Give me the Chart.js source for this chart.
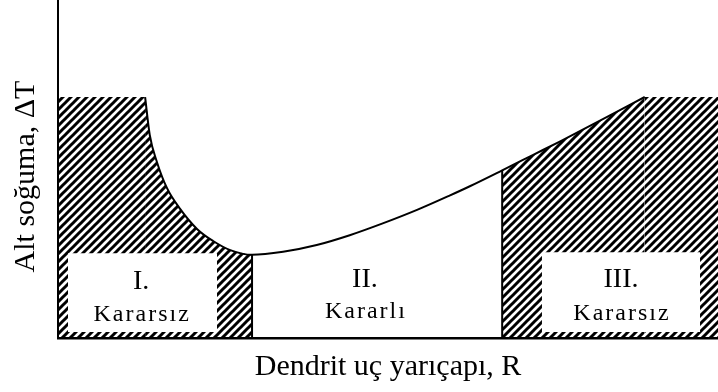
<!DOCTYPE html>
<html>
<head>
<meta charset="utf-8">
<script src="https://cdn.jsdelivr.net/npm/chart.js@4/dist/chart.umd.min.js"></script>
<style>
  html, body { margin: 0; padding: 0; background: #fff; }
  #wrap { width: 718px; height: 392px; }
</style>
</head>
<body>
<div id="wrap"><canvas id="c"></canvas></div>
<script>
// Stability curve: tip radius R against undercooling ΔT (arbitrary units)
const curveR  = [13.2, 13.9, 15.0, 16.5, 18.5, 21.1, 23.5, 26.1, 29.4, 34.1, 39.2, 44.2, 49.2, 54.4, 59.4, 62.4, 67.3, 72.0, 76.1, 83.2, 88.9];
const curveDT = [71.3, 60.1, 52.0, 44.4, 38.2, 32.2, 28.7, 26.0, 24.6, 25.5, 27.5, 30.4, 33.9, 37.9, 42.2, 44.9, 49.6, 54.2, 58.2, 65.4, 71.3];

// Region limits on the R axis and the height of the unstable bands
const stableStartR = 29.4;
const stableEndR = 67.3;
const unstableTopDT = 71.3;
const axisMaxR = 100;
const axisMaxDT = 100;

// Region captions
const regionNumerals = ['I.', 'II.', 'III.'];
const regionNames = ['Kararsız', 'Kararlı', 'Kararsız'];

// Caption placement (data units)
const captionR = [12.6, 46.5, 85.3];
const numeralBaseDT = [14.6, 15.2, 15.2];
const nameBaseDT = [5.0, 5.9, 5.3];
const captionBoxes = [
  { from: 1.5, to: 24.1, bottom: 1.8, top: 25.1 },
  { from: 73.3, to: 97.3, bottom: 1.8, top: 25.4 }
];

const curvePts = curveR.map((r, i) => ({ x: r, y: curveDT[i] }));
const leftCurve = curvePts.filter(p => p.x <= stableStartR);
const rightCurve = curvePts.filter(p => p.x >= stableEndR);
const dtAt = r => curveDT[curveR.indexOf(r)];

function hatchPattern() {
  const s = 8;
  const cv = document.createElement('canvas');
  cv.width = s; cv.height = s;
  const g = cv.getContext('2d');
  g.strokeStyle = '#000';
  g.lineWidth = 3;
  g.beginPath();
  g.moveTo(-2, 2); g.lineTo(2, -2);
  g.moveTo(0, s); g.lineTo(s, 0);
  g.moveTo(s - 2, s + 2); g.lineTo(s + 2, s - 2);
  g.stroke();
  return g.createPattern(cv, 'repeat');
}
const hatch = hatchPattern();

const hatchStyle = {
  fill: 'origin', backgroundColor: hatch, borderWidth: 0, borderColor: 'rgba(0,0,0,0)',
  pointRadius: 0, order: 5
};

const datasets = [
  // unstable band I (flat top, then under the curve)
  Object.assign({ data: [{ x: 0, y: unstableTopDT }, { x: curveR[0], y: unstableTopDT }], tension: 0 }, hatchStyle),
  Object.assign({ data: leftCurve, cubicInterpolationMode: 'monotone' }, hatchStyle),
  // unstable band III
  Object.assign({ data: rightCurve, cubicInterpolationMode: 'monotone' }, hatchStyle),
  Object.assign({ data: [{ x: curveR[curveR.length - 1], y: unstableTopDT }, { x: axisMaxR, y: unstableTopDT }], tension: 0 }, hatchStyle),
  // white caption boxes
  ...captionBoxes.map(b => ({
    data: [{ x: b.from, y: b.top }, { x: b.to, y: b.top }],
    fill: { target: { value: b.bottom } }, backgroundColor: '#fff',
    borderWidth: 0, borderColor: 'rgba(0,0,0,0)', pointRadius: 0, order: 4
  })),
  // region boundaries
  ...[stableStartR, stableEndR].map(r => ({
    data: [{ x: r, y: dtAt(r) }, { x: r, y: 0 }],
    borderColor: '#000', borderWidth: 2, pointRadius: 0, fill: false, order: 2
  })),
  // the stability curve
  {
    data: curvePts, borderColor: '#000', borderWidth: 2, pointRadius: 0,
    cubicInterpolationMode: 'monotone', fill: false, order: 1
  }
];

const captions = {
  id: 'captions',
  afterDatasetsDraw(chart) {
    const { ctx, scales: { x, y } } = chart;
    ctx.save();
    ctx.fillStyle = '#000';
    ctx.textAlign = 'center';
    ctx.textBaseline = 'alphabetic';
    regionNumerals.forEach((t, i) => {
      const px = x.getPixelForValue(captionR[i]);
      ctx.font = '28px "Liberation Serif"';
      ctx.letterSpacing = '0px';
      ctx.fillText(t, px, y.getPixelForValue(numeralBaseDT[i]));
      ctx.font = '24px "Liberation Serif"';
      ctx.letterSpacing = '2px';
      ctx.fillText(regionNames[i], px + 1, y.getPixelForValue(nameBaseDT[i]));
    });
    ctx.restore();
  }
};

const titleFont = { family: '"Liberation Serif", "Times New Roman", serif', size: 30 };

new Chart(document.getElementById('c'), {
  type: 'line',
  data: { datasets },
  options: {
    responsive: true,
    maintainAspectRatio: false,
    animation: false,
    layout: { padding: 0, autoPadding: false },
    plugins: { legend: { display: false }, tooltip: { enabled: false } },
    scales: {
      x: {
        type: 'linear', min: 0, max: axisMaxR,
        ticks: { display: false },
        grid: { display: false, drawTicks: false },
        border: { display: true, color: '#000', width: 2.5 },
        title: { display: true, text: 'Dendrit uç yarıçapı, R', color: '#000', font: titleFont, padding: { top: 11, bottom: 7 } }
      },
      y: {
        type: 'linear', min: 0, max: axisMaxDT,
        ticks: { display: false },
        grid: { display: false, drawTicks: false },
        border: { display: true, color: '#000', width: 2 },
        title: { display: true, text: 'Alt soğuma, ΔT  ', color: '#000', font: titleFont, padding: { top: 8, bottom: 14 } }
      }
    }
  },
  plugins: [captions]
});
</script>
</body>
</html>
